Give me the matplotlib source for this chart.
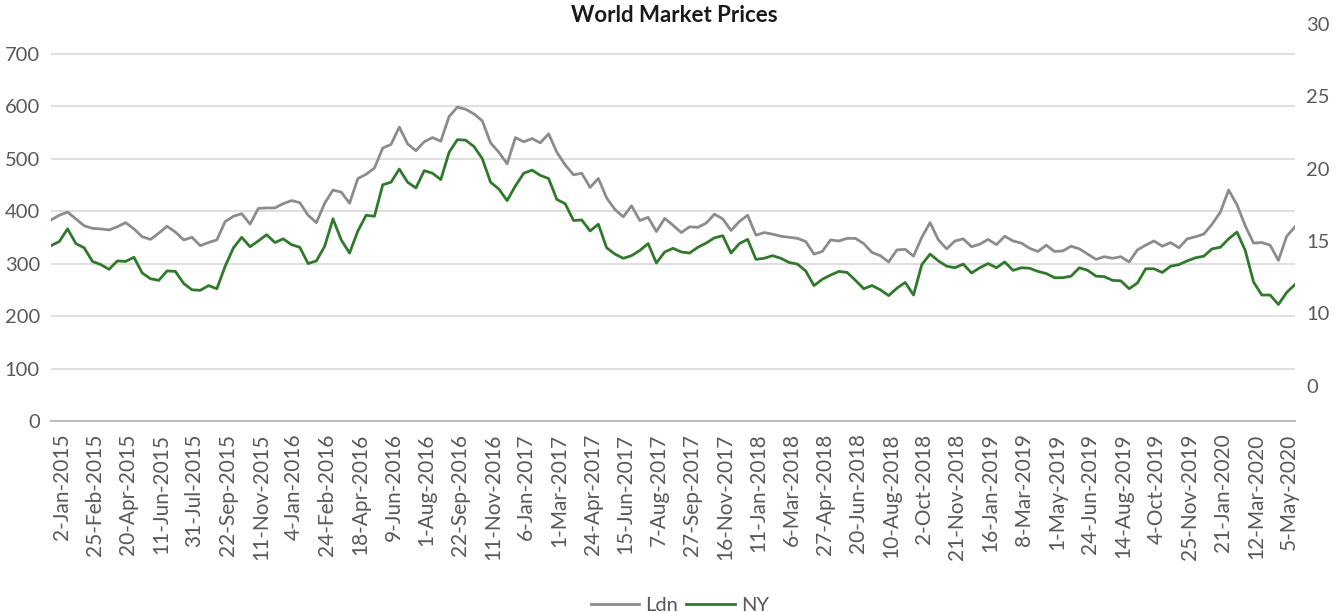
import numpy as np
import matplotlib.pyplot as plt

# ===== DATA ===== #
tick_labels = [
    "2-Jan-2015", "25-Feb-2015", "20-Apr-2015", "11-Jun-2015", "31-Jul-2015",
    "22-Sep-2015", "11-Nov-2015", "4-Jan-2016", "24-Feb-2016", "18-Apr-2016",
    "9-Jun-2016", "1-Aug-2016", "22-Sep-2016", "11-Nov-2016", "6-Jan-2017",
    "1-Mar-2017", "24-Apr-2017", "15-Jun-2017", "7-Aug-2017", "27-Sep-2017",
    "16-Nov-2017", "11-Jan-2018", "6-Mar-2018", "27-Apr-2018", "20-Jun-2018",
    "10-Aug-2018", "2-Oct-2018", "21-Nov-2018", "16-Jan-2019", "8-Mar-2019",
    "1-May-2019", "24-Jun-2019", "14-Aug-2019", "4-Oct-2019", "25-Nov-2019",
    "21-Jan-2020", "12-Mar-2020", "5-May-2020",
]

ldn = [
    383, 392, 398, 385, 372, 367, 366, 364, 370, 378,
    366, 351, 346, 358, 371, 360, 345, 350, 334, 340,
    345, 380, 390, 395, 375, 405, 406, 406, 414, 420,
    416, 392, 378, 415, 440, 436, 415, 462, 470, 482,
    520, 527, 560, 528, 515, 532, 540, 533, 580, 598,
    594, 585, 572, 530, 512, 490, 540, 532, 538, 530,
    547, 512, 488, 469, 472, 445, 462, 425, 403, 389,
    410, 382, 388, 361, 386, 373, 359, 370, 369, 377,
    394, 385, 363, 380, 392, 354, 359, 356, 352, 350,
    348, 342, 318, 323, 345, 343, 348, 348, 338, 321,
    315, 303, 326, 327, 314, 350, 378, 345, 328, 343,
    347, 332, 337, 346, 336, 352, 343, 339, 329, 323,
    335, 323, 324, 333, 328, 318, 308, 313, 310, 313,
    303, 326, 335, 343, 333, 340, 330, 347, 351, 356,
    375, 398, 440, 412, 372, 339, 340, 335, 306, 352,
    370,
]

ny = [
    334, 342, 366, 338, 330, 304, 298, 289, 305, 304,
    312, 282, 271, 268, 286, 285, 262, 250, 249, 258,
    252, 295, 330, 350, 332, 343, 355, 340, 347, 336,
    331, 300, 305, 333, 385, 345, 320, 362, 392, 390,
    450, 455, 480, 455, 444, 477, 472, 460, 512, 536,
    535, 523, 500, 455, 442, 420, 448, 472, 478, 468,
    462, 422, 414, 382, 383, 362, 375, 330, 318, 310,
    315, 325, 338, 301, 322, 329, 322, 320, 331, 339,
    349, 353, 320, 338, 346, 308, 310, 315, 310, 302,
    299, 286, 258, 270, 278, 285, 283, 268, 252, 258,
    250, 239, 253, 264, 240, 298, 318, 305, 295, 292,
    299, 282, 292, 300, 292, 303, 287, 292, 291, 285,
    281, 273, 273, 276, 292, 287, 276, 275, 268, 267,
    252, 263, 290, 290, 283, 295, 298, 305, 311, 314,
    328, 331, 347, 360, 325, 265, 240, 240, 222, 245,
    260,
]

left_ticks = [0, 100, 200, 300, 400, 500, 600, 700]
right_ticks = [5, 10, 15, 20, 25, 30]
right_labels = ["0", "10", "15", "20", "25", "30"]

# ===== STYLE ===== #
plt.rcParams['font.family'] = ['Lato', 'DejaVu Sans']
grey = '#8c8c8c'
green = '#2f7a2a'
label_col = '#595959'

fig = plt.figure(figsize=(13.41, 6.12), dpi=100)
ax = fig.add_axes([51 / 1341, 191 / 612, 1244 / 1341, 401 / 612])

x = np.arange(len(ldn))
ax.plot(x, ldn, color=grey, lw=2.0, label='Ldn')
ax.plot(x, ny, color=green, lw=2.0, label='NY')

ax.set_xlim(0, len(ldn) - 1)
ax.set_ylim(0, 764)
ax.set_yticks(left_ticks)
ax.grid(axis='y', color='#d9d9d9', lw=1.2)
ax.set_axisbelow(True)
for s in ['top', 'right', 'left']:
    ax.spines[s].set_visible(False)
ax.spines['bottom'].set_color('#bfbfbf')
ax.spines['bottom'].set_linewidth(1.5)
ax.tick_params(axis='y', length=0, pad=8, labelsize=14.5, labelcolor=label_col)

ax.set_xticks(1.3 + 4 * np.arange(len(tick_labels)))
ax.set_xticklabels(tick_labels, rotation=90)
ax.tick_params(axis='x', length=0, pad=9, labelsize=15, labelcolor=label_col)

# secondary axis
ax2 = ax.twinx()
ax2.set_ylim(2.55, 30.28)
ax2.set_yticks(right_ticks)
ax2.set_yticklabels(right_labels)
for s in ax2.spines.values():
    s.set_visible(False)
ax2.tick_params(axis='y', length=0, pad=8, labelsize=14.5, labelcolor=label_col)

fig.text(674 / 1341, 1 - 15 / 612, 'World Market Prices', ha='center', va='center',
         fontsize=16, fontweight='bold', color='#1a1a1a')

handles, labels = ax.get_legend_handles_labels()
leg = fig.legend(handles, labels, loc='center', bbox_to_anchor=(680 / 1341, 7 / 612),
                 ncol=2, frameon=False, fontsize=14.5, handlelength=2.4,
                 handletextpad=0.3, columnspacing=0.4)
for t in leg.get_texts():
    t.set_color(label_col)

fig.savefig('out.png', dpi=100)
